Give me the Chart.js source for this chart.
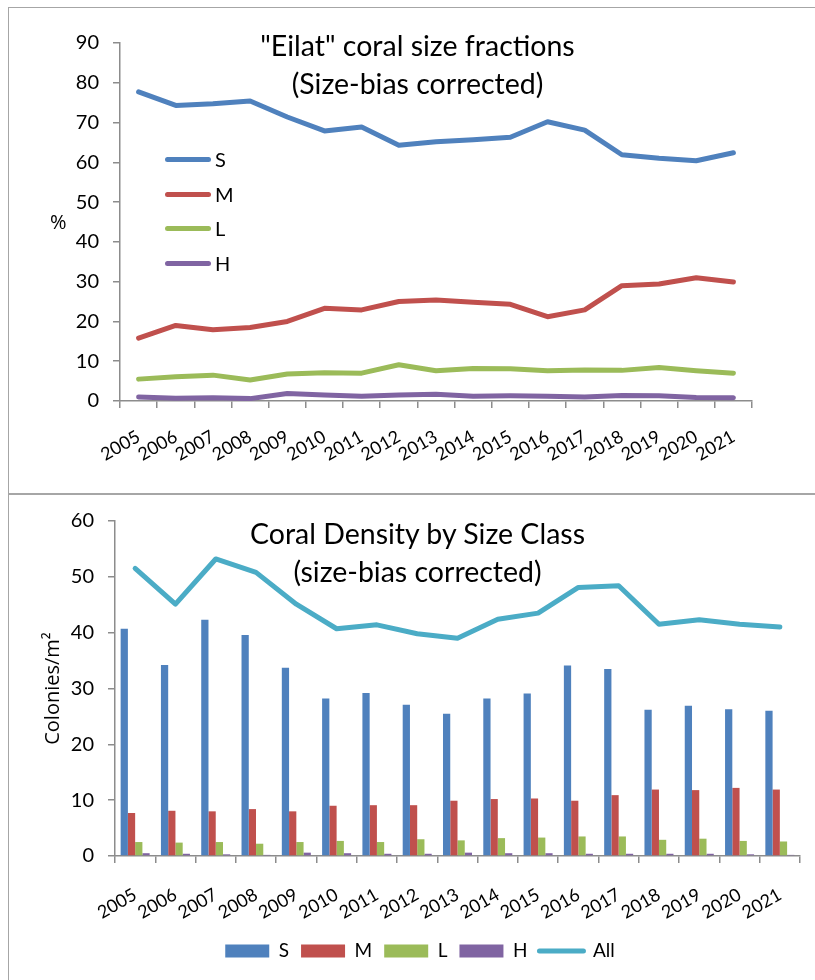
<!DOCTYPE html>
<html>
<head>
<meta charset="utf-8">
<script src="https://cdn.jsdelivr.net/npm/chart.js@4.4.0/dist/chart.umd.min.js"></script>
<style>
  body { margin: 0; width: 815px; height: 980px; overflow: hidden; background: #fff; position: relative; font-family: Lato, sans-serif; }
  .frame { position: absolute; border: 1.5px solid #a6a6a6; }
  canvas { position: absolute; left: 0; }
  .title { position: absolute; left: 0; width: 835px; text-align: center; font-size: 28.5px; color: #000; line-height: 38px; }
  .ylab { position: absolute; font-family: "Open Sans", sans-serif; font-size: 20px; }
  .leg { position: absolute; left: 165px; font-size: 20px; }
  .leg div { position: absolute; left: 0; height: 20px; white-space: nowrap; }
  .leg span.ln { position: absolute; left: 0; top: 7px; width: 46px; height: 5px; border-radius: 3px; }
  .leg span.tx { position: absolute; left: 50px; top: -3px; }
</style>
</head>
<body>
<div class="frame" style="left:8px;top:7px;width:900px;height:486px;"></div>
<div class="frame" style="left:8px;top:493px;width:900px;height:600px;"></div>

<canvas id="fractions" width="815" height="490" style="top:0"></canvas>
<canvas id="density" width="815" height="485" style="top:495px"></canvas>

<div class="title" style="top:26px">"Eilat" coral size fractions<br>(Size-bias corrected)</div>
<div class="title" style="top:514px">Coral Density by Size Class<br>(size-bias corrected)</div>
<div class="ylab" style="left:50px;top:208px;">%</div>
<div class="leg" id="fracLegend" style="top:150px"></div>

<script>
// years on both x axes
const years = ['2005', '2006', '2007', '2008', '2009', '2010', '2011', '2012', '2013',
  '2014', '2015', '2016', '2017', '2018', '2019', '2020', '2021'];

// size fractions, % of colonies
const fracS = [77.7, 74.3, 74.7, 75.4, 71.4, 67.9, 68.9, 64.3, 65.2, 65.7, 66.3, 70.2, 68.1, 61.9, 61.0, 60.4, 62.4];
const fracM = [15.8, 19.0, 17.9, 18.5, 20.0, 23.3, 22.9, 25.0, 25.4, 24.8, 24.3, 21.2, 22.9, 29.0, 29.4, 31.0, 29.9];
const fracL = [5.5, 6.1, 6.5, 5.3, 6.8, 7.1, 7.0, 9.1, 7.6, 8.2, 8.1, 7.6, 7.8, 7.7, 8.4, 7.6, 7.0];
const fracH = [1.0, 0.7, 0.8, 0.6, 1.9, 1.5, 1.2, 1.5, 1.7, 1.2, 1.3, 1.2, 1.0, 1.4, 1.3, 0.9, 0.8];

// density, colonies per m2
const denS = [40.7, 34.2, 42.3, 39.6, 33.7, 28.2, 29.2, 27.1, 25.5, 28.2, 29.1, 34.1, 33.5, 26.2, 26.9, 26.3, 26.0];
const denM = [7.7, 8.1, 8.0, 8.4, 8.0, 9.0, 9.1, 9.1, 9.9, 10.2, 10.3, 9.9, 10.9, 11.9, 11.8, 12.2, 11.9];
const denL = [2.5, 2.4, 2.5, 2.2, 2.5, 2.7, 2.5, 3.0, 2.8, 3.2, 3.3, 3.5, 3.5, 2.9, 3.1, 2.7, 2.6];
const denH = [0.5, 0.4, 0.3, 0.2, 0.6, 0.5, 0.4, 0.4, 0.6, 0.5, 0.5, 0.4, 0.4, 0.4, 0.4, 0.3, 0.2];
const denAll = [51.5, 45.1, 53.2, 50.8, 45.1, 40.7, 41.4, 39.8, 39.0, 42.4, 43.5, 48.1, 48.4, 41.5, 42.3, 41.5, 41.0];

const fracTicks = [0, 10, 20, 30, 40, 50, 60, 70, 80, 90];
const denTicks = [0, 10, 20, 30, 40, 50, 60];

const sizeNames = ['S', 'M', 'L', 'H'];
const sizeColors = ['#4f81bd', '#c0504d', '#9bbb59', '#8064a2'];
const allColor = '#4bacc6';
const axisGray = '#8c8c8c';

const yTickFont = { family: 'Lato', size: 20 };
const xTickFont = { family: 'Lato', size: 18 };

function lineSet(label, data, color) {
  return {
    type: 'line',
    label: label,
    data: data,
    borderColor: color,
    backgroundColor: color,
    borderWidth: 5,
    pointRadius: 0,
    tension: 0,
    borderJoinStyle: 'round',
    borderCapStyle: 'round'
  };
}

function xAxis(height, pad) {
  return {
    offset: true,
    grid: { offset: true, drawOnChartArea: false, tickLength: 7, color: axisGray, lineWidth: 1.5 },
    border: { color: axisGray, width: 1.5 },
    ticks: { font: xTickFont, color: '#000', minRotation: 30, maxRotation: 30, autoSkip: false, padding: pad },
    afterFit: scale => { scale.height = height; }
  };
}

function yAxis(max, tickVals, width) {
  return {
    min: 0,
    max: max,
    afterBuildTicks: scale => { scale.ticks = tickVals.map(v => ({ value: v })); },
    grid: { drawOnChartArea: false, tickLength: 7, color: axisGray, lineWidth: 1.5 },
    border: { color: axisGray, width: 1.5 },
    ticks: { font: yTickFont, color: '#000', padding: 14 },
    afterFit: scale => { scale.width = width; }
  };
}

// --- top: size fractions
const fracSeries = [fracS, fracM, fracL, fracH];
new Chart(document.getElementById('fractions'), {
  type: 'line',
  data: {
    labels: years,
    datasets: fracSeries.map((d, i) => lineSet(sizeNames[i], d, sizeColors[i]))
  },
  options: {
    responsive: false,
    animation: false,
    layout: { padding: { left: 70, right: 63, top: 43, bottom: 4 } },
    plugins: { legend: { display: false }, tooltip: { enabled: false } },
    scales: {
      x: xAxis(85, 18),
      y: yAxis(90, fracTicks, 50)
    }
  }
});

// legend of the top chart sits inside the plot
const legBox = document.getElementById('fracLegend');
sizeNames.forEach((name, i) => {
  const row = document.createElement('div');
  row.style.top = (i * 34.7) + 'px';
  row.innerHTML = '<span class="ln" style="background:' + sizeColors[i] + '"></span><span class="tx">' + name + '</span>';
  legBox.appendChild(row);
});

// --- bottom: density
const denSeries = [denS, denM, denL, denH];
const denSets = denSeries.map((d, i) => ({
  type: 'bar',
  label: sizeNames[i],
  data: d,
  backgroundColor: sizeColors[i],
  borderWidth: 0,
  categoryPercentage: 0.72,
  barPercentage: 1
}));
denSets.push(lineSet('All', denAll, allColor));

new Chart(document.getElementById('density'), {
  type: 'bar',
  data: { labels: years, datasets: denSets },
  options: {
    responsive: false,
    animation: false,
    layout: { padding: { left: 40, right: 15, top: 25, bottom: 9.5 } },
    plugins: {
      tooltip: { enabled: false },
      legend: {
        position: 'bottom',
        labels: {
          font: { family: 'Lato', size: 19 },
          color: '#000',
          usePointStyle: true,
          pointStyleWidth: 44,
          boxHeight: 13,
          padding: 12,
          generateLabels: chart => {
            const items = Chart.defaults.plugins.legend.labels.generateLabels(chart);
            items.forEach(it => {
              if (it.datasetIndex < 4) {
                it.pointStyle = 'rect';
                it.lineWidth = 0;
              } else {
                it.pointStyle = 'line';
                it.lineWidth = 5;
                it.lineCap = 'round';
              }
            });
            return items;
          }
        }
      }
    },
    scales: {
      x: xAxis(73.5, 21),
      y: Object.assign(yAxis(60, denTicks, 75), {
        title: {
          display: true,
          text: 'Colonies/m\u00b2',
          font: { family: 'Open Sans', size: 20 },
          color: '#000',
          padding: { top: 1, bottom: 0 }
        }
      })
    }
  }
});
</script>
</body>
</html>
